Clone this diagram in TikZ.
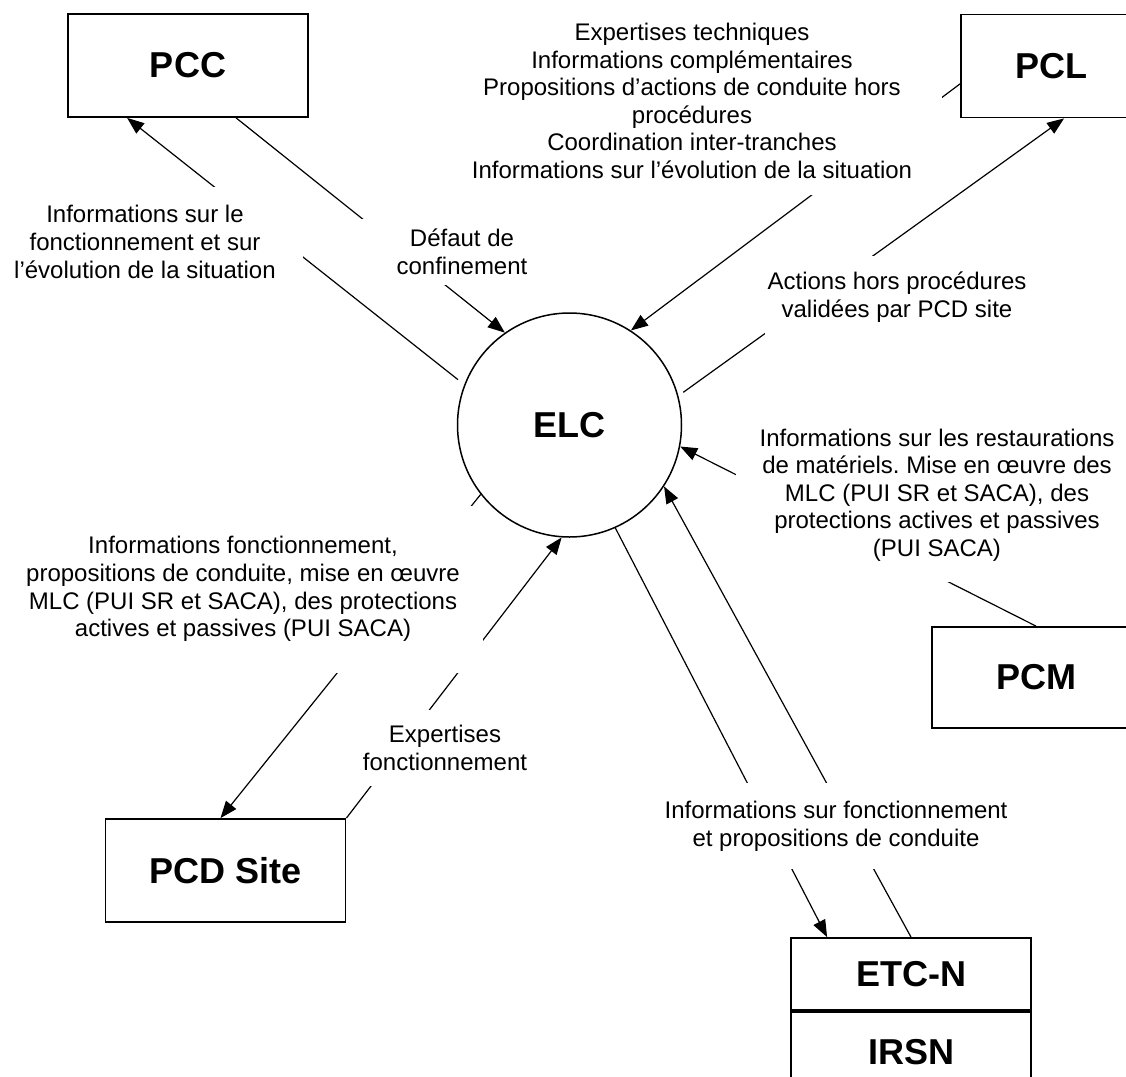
\documentclass[tikz,border=0pt]{standalone}
\usepackage{fontspec}
\setmainfont{Liberation Sans}
\usetikzlibrary{arrows.meta,positioning,calc}
\frenchspacing

\begin{document}
\begin{tikzpicture}[x=0.5pt,y=-0.5pt,
    box/.style={draw,line width=0.9pt,minimum width=120pt,minimum height=51.5pt,inner sep=0pt,font=\fontsize{18}{21.6}\selectfont\bfseries},
    flow/.style={line width=0.6pt,-{Triangle[length=8.5pt,width=6.5pt]}},
    lab/.style={fill=white,inner sep=0pt,align=center,font=\fontsize{12}{13.8}\selectfont}]
    \useasboundingbox (0,0) rectangle (1126,1077);
    \clip (0,0) rectangle (1126,1077);
    \node[box] (PCC) at (188,65.5) {PCC};
    \node[box,minimum width=90pt] (PCL) at (1051,66) {PCL};
    \node[box,minimum width=104pt,minimum height=50.5pt] (PCM) at (1036,677.5) {PCM};
    \node[box] (PCD) at (225.5,870.5) {PCD Site};
    \node[box,minimum height=36pt] (ETCN) at (911,974) {ETC-N};
    \node[box,minimum height=40pt,below=0pt of ETCN] (IRSN) {IRSN};
    \node[circle,draw,line width=0.75pt,minimum size=112pt,inner sep=0pt,font=\fontsize{18}{21.6}\selectfont\bfseries] (ELC) at (569.5,425) {ELC};
    \draw[flow,shorten <=4pt] (ELC.159) -- ($(PCC.south west)+(60,0)$);
    \draw[flow] ($(PCC.south west)+(169,0)$) -- (ELC.125);
    \draw[flow] ($(PCL.north west)!0.67!(PCL.south west)$) -- (ELC.57);
    \draw[flow,shorten <=3pt] (ELC.15) -- ($(PCL.south west)+(104,0)$);
    \draw[flow] (PCM.north) -- (ELC.-11);
    \draw[flow] (ETCN.north) -- (ELC.-33);
    \draw[flow] (ELC.-66) -- ($(ETCN.north west)+(37,0)$);
    \draw[flow] (ELC.218) -- ($(PCD.north)+(-5,0)$);
    \draw[flow] (PCD.north east) -- (ELC.266);
    \node[lab,minimum width=158pt,minimum height=55pt] (labPCC) at (145,242) {Informations sur le\\fonctionnement et sur\\l’évolution de la situation};
    \node[lab,minimum width=250pt,minimum height=94pt] (labPCL) at (692,101) {Expertises techniques\\Informations complémentaires\\Propositions d’actions de conduite hors\\procédures\\Coordination inter-tranches\\Informations sur l’évolution de la situation};
    \node[lab,minimum width=102pt,minimum height=33pt] (labDef) at (462,252) {Défaut de\\confinement};
    \node[lab,minimum width=132pt,minimum height=41pt] (labAct) at (897,297) {Actions hors procédures\\validées par PCD site};
    \node[lab,minimum width=201pt,minimum height=87pt] (labPCM) at (937,495) {Informations sur les restaurations\\de matériels. Mise en œuvre des\\MLC (PUI SR et SACA), des\\protections actives et passives\\(PUI SACA)};
    \node[lab,minimum width=240pt,minimum height=83.5pt] (labPCD) at (243,589) {Informations fonctionnement,\\propositions de conduite, mise en œuvre\\MLC (PUI SR et SACA), des protections\\actives et passives (PUI SACA)};
    \node[lab,minimum width=95pt,minimum height=38pt] (labExp) at (445,748) {Expertises\\fonctionnement};
    \node[lab,minimum width=186pt,minimum height=43pt] (labETC) at (836,826) {Informations sur fonctionnement\\et propositions de conduite};
\end{tikzpicture}
\end{document}
